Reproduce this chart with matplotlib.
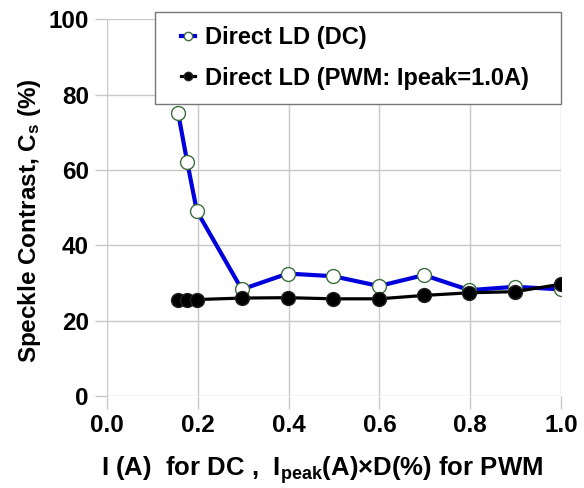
import numpy as np
import matplotlib
matplotlib.use('Agg')
import matplotlib.pyplot as plt
from matplotlib.legend_handler import HandlerLine2D

plt.rcParams['font.family'] = 'Liberation Sans'
plt.rcParams['font.weight'] = 'bold'
plt.rcParams['axes.labelweight'] = 'bold'
plt.rcParams['mathtext.fontset'] = 'custom'
plt.rcParams['mathtext.rm'] = 'Liberation Sans:bold'
plt.rcParams['mathtext.bf'] = 'Liberation Sans:bold'
plt.rcParams['mathtext.default'] = 'bf'

#data
x_dc = [0.157, 0.177, 0.198, 0.297, 0.398, 0.498, 0.599, 0.698, 0.798, 0.899, 1.0]
cs_dc = [75.0, 62.0, 49.1, 28.3, 32.5, 31.8, 29.2, 32.1, 28.1, 29.0, 28.3]
x_pwm = [0.157, 0.177, 0.198, 0.297, 0.398, 0.498, 0.599, 0.698, 0.798, 0.899, 1.0]
cs_pwm = [25.5, 25.5, 25.6, 26.0, 26.1, 25.8, 25.8, 26.7, 27.4, 27.7, 29.7]

fig = plt.figure(figsize=(5.84, 4.88), dpi=100)
ax = fig.add_axes([0.183, 0.1885, 0.778, 0.772])

l1, = ax.plot(x_dc, cs_dc, color='#0000dd', lw=3, marker='o', ms=10,
              mfc='white', mec='#3c6e3c', mew=1, label='Direct LD (DC)', zorder=3)
l2, = ax.plot(x_pwm, cs_pwm, color='black', lw=2.3, marker='o', ms=10,
              mfc='black', mec='#222222', label='Direct LD (PWM: Ipeak=1.0A)', zorder=4)

ax.set_xlim(0, 1.0)
ax.set_ylim(0, 100)
ax.set_xticks(np.arange(0, 1.01, 0.2))
ax.set_yticks(np.arange(0, 101, 20))
ax.set_xticklabels(['0.0', '0.2', '0.4', '0.6', '0.8', '1.0'])
ax.grid(color='#c8c8c8', lw=1)
ax.set_axisbelow(True)
for s in ax.spines.values():
    s.set_visible(False)
ax.tick_params(length=9, color='#c8c8c8', width=1, labelsize=17.5, pad=4)

ax.set_xlabel(r'I (A)  for DC ,  I$_{peak}$(A)×D(%) for PWM', fontsize=18.5)
ax.set_ylabel(r'Speckle Contrast, C$_s$ (%)', fontsize=17.5)
ax.xaxis.set_label_coords(0.474, -0.155)
ax.yaxis.set_label_coords(-0.14, 0.465)

#legend stretched to the box width of the original, short line stubs
hm = {l1: HandlerLine2D(xpad=0.5), l2: HandlerLine2D(xpad=0.5)}
leg = ax.legend(loc='upper left', bbox_to_anchor=(0.106, 0.0, 0.894, 1.02), mode='expand',
                borderaxespad=0, fontsize=17, handlelength=1.1, handletextpad=0.4,
                fancybox=False, edgecolor='#777777', framealpha=1, borderpad=0.6,
                labelspacing=0.75, markerscale=0.6, handler_map=hm)
leg.get_frame().set_linewidth(1)

plt.savefig('out.png', dpi=100)
